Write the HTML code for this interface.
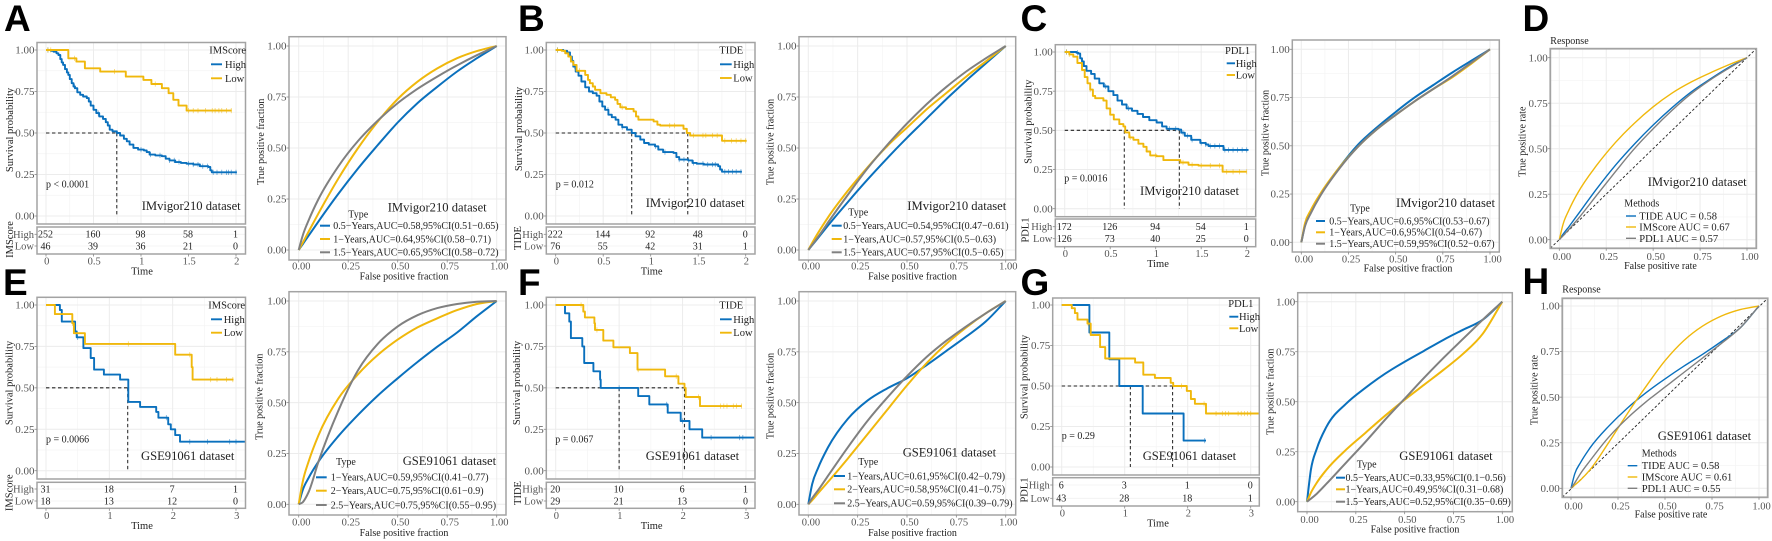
<!DOCTYPE html>
<html lang="en">
<head>
<meta charset="utf-8">
<title>Survival and ROC curves for IMScore, TIDE and PDL1</title>
<style>
html,body{margin:0;padding:0;background:#fff;width:1772px;height:541px;overflow:hidden}
svg{display:block;filter:blur(.35px);font-family:"Liberation Serif",serif}
</style>
</head>
<body>
<svg id="figure" width="1772" height="541" viewBox="0 0 1772 541"></svg>
<script>
/* ---------- shared axis values ---------- */
const kmYTicks=[0,.25,.5,.75,1];
const kmYLabels=['0.00','0.25','0.50','0.75','1.00'];
const rocTicks=[0,.25,.5,.75,1];
const rocLabels=['0.00','0.25','0.50','0.75','1.00'];
const time2Ticks=[0,.5,1,1.5,2];
const time2Labels=['0','0.5','1','1.5','2'];
const time3Ticks=[0,1,2,3];
const time3Labels=['0','1','2','3'];
const rocFpr=[0,.02,.05,.1,.2,.3,.4,.5,.6,.7,.8,.9,1];

/* ---------- panel A ---------- */
const kmATimeHigh=[0,.05,.08,.11,.13,.15,.165,.18,.2,.22,.235,.25,.27,.29,.305,.33,.36,.39,.43,.45,.47,.5,.53,.56,.6,.63,.65,.67,.7,.745,.78,.82,.85,.88,.92,.97,1.03,1.06,1.09,1.15,1.22,1.26,1.3,1.36,1.42,1.48,1.55,1.62,1.71,1.73,1.745,2.01];
const kmASurvHigh=[1,.995,.99,.98,.97,.945,.925,.91,.885,.865,.85,.825,.80,.78,.77,.745,.73,.72,.71,.69,.665,.64,.62,.60,.585,.565,.545,.52,.51,.5,.485,.465,.45,.43,.41,.40,.395,.385,.37,.365,.36,.345,.335,.325,.32,.315,.31,.30,.295,.275,.263,.263];
const kmACensorHigh=[.02,.3,.55,.75,1.0,1.1,1.2,1.3,1.35,1.4,1.5,1.55,1.6,1.65,1.7,1.76,1.8,1.85,1.9,1.92,1.95,2.0];
const kmATimeLow=[0,.22,.235,.32,.41,.57,.84,1.025,1.11,1.22,1.29,1.34,1.395,1.48,1.955];
const kmASurvLow=[1,1,.95,.93,.89,.87,.84,.82,.795,.77,.74,.70,.665,.635,.635];
const kmACensorLow=[.02,.05,.3,.72,1.15,1.5,1.55,1.6,1.68,1.75,1.78,1.82,1.85,1.9,1.95];
const kmAMedian=[.745];
const kmARiskHigh=[252,160,98,58,1];
const kmARiskLow=[46,39,36,21,0];
const rocATprBlue=[0,.028,.07,.14,.275,.40,.515,.625,.72,.80,.875,.94,1];
const rocATprYellow=[0,.035,.09,.18,.35,.50,.63,.74,.825,.89,.94,.975,1];
const rocATprGray=[0,.07,.145,.25,.41,.535,.635,.72,.79,.85,.905,.955,1];
const rocALegend=['0.5\u2212Years,AUC=0.58,95%CI(0.51\u22120.65)','1\u2212Years,AUC=0.64,95%CI(0.58\u22120.71)','1.5\u2212Years,AUC=0.65,95%CI(0.58\u22120.72)'];

/* ---------- panel B ---------- */
const kmBTimeHigh=[0,.08,.12,.15,.17,.185,.21,.24,.27,.31,.35,.39,.43,.46,.49,.52,.555,.59,.63,.66,.7,.75,.80,.84,.89,.93,.98,1.045,1.08,1.13,1.24,1.27,1.3,1.395,1.44,1.485,1.56,1.71,1.73,1.75,1.96];
const kmBSurvHigh=[1,.995,.985,.96,.935,.90,.87,.845,.81,.775,.75,.74,.725,.69,.66,.64,.61,.595,.58,.55,.535,.52,.50,.48,.46,.44,.43,.42,.40,.385,.38,.355,.34,.335,.32,.315,.31,.30,.28,.267,.267];
const kmBCensorHigh=[.02,.2,.55,.7,1.05,1.15,1.3,1.35,1.4,1.45,1.55,1.6,1.65,1.68,1.78,1.82,1.86,1.9,1.95];
const kmBTimeLow=[0,.063,.1,.133,.16,.185,.22,.31,.34,.36,.39,.415,.47,.535,.58,.625,.65,.68,.74,.82,.845,.87,1.03,1.07,1.10,1.31,1.345,1.38,1.415,1.73,1.75,2.01];
const kmBSurvLow=[1,.995,.98,.96,.93,.91,.875,.85,.82,.80,.78,.76,.74,.73,.715,.70,.675,.655,.645,.63,.60,.58,.57,.55,.545,.545,.525,.50,.485,.485,.453,.453];
const kmBCensorLow=[.02,.25,.7,1.2,1.25,1.45,1.55,1.58,1.65,1.7,1.78,1.85,1.9,1.95,2.0];
const kmBMedian=[.80,1.39];
const kmBRiskHigh=[222,144,92,48,0];
const kmBRiskLow=[76,55,42,31,1];
const rocBTprBlue=[0,.024,.06,.12,.235,.345,.45,.55,.645,.74,.83,.915,1];
const rocBTprYellow=[0,.035,.085,.16,.29,.405,.51,.60,.69,.77,.85,.925,1];
const rocBTprGray=[0,.025,.065,.135,.27,.40,.515,.62,.715,.80,.875,.94,1];
const rocBLegend=['0.5\u2212Years,AUC=0.54,95%CI(0.47\u22120.61)','1\u2212Years,AUC=0.57,95%CI(0.5\u22120.63)','1.5\u2212Years,AUC=0.57,95%CI(0.5\u22120.65)'];

/* ---------- panel C ---------- */
const kmCTimeHigh=[0,.13,.15,.17,.19,.21,.24,.29,.33,.38,.43,.48,.535,.58,.63,.68,.74,.8,.86,.93,1.01,1.07,1.12,1.25,1.28,1.32,1.39,1.49,1.55,1.58,1.725,1.745,2.02];
const kmCSurvHigh=[1,.995,.99,.96,.94,.91,.88,.86,.83,.80,.78,.75,.725,.69,.665,.64,.625,.605,.585,.565,.55,.525,.51,.505,.485,.465,.44,.42,.41,.40,.40,.375,.375];
const kmCCensorHigh=[.02,.14,.45,.7,1.15,1.22,1.3,1.35,1.4,1.5,1.55,1.6,1.65,1.7,1.76,1.8,1.85,1.9,1.95,2.0];
const kmCTimeLow=[0,.05,.095,.14,.19,.22,.25,.28,.31,.335,.425,.46,.5,.54,.6,.645,.665,.71,.755,.81,.865,.9,.94,1.01,1.085,1.27,1.36,1.47,1.705,1.735,2.0];
const kmCSurvLow=[1,.985,.97,.93,.885,.84,.80,.76,.72,.705,.69,.64,.60,.57,.54,.525,.487,.455,.44,.415,.395,.365,.34,.335,.31,.295,.28,.275,.275,.236,.236];
const kmCCensorLow=[.02,.05,.28,.72,1.0,1.3,1.4,1.5,1.6,1.7,1.78,1.85,1.92,2.0];
const kmCMedian=[.655,1.26];
const kmCRiskHigh=[172,126,94,54,1];
const kmCRiskLow=[126,73,40,25,0];
const rocCTprBlue=[0,.09,.155,.245,.385,.505,.595,.675,.75,.815,.88,.94,1];
const rocCTprYellow=[0,.10,.165,.25,.385,.495,.585,.66,.73,.795,.855,.925,1];
const rocCTprGray=[0,.085,.15,.24,.38,.495,.585,.66,.73,.795,.86,.93,1];
const rocCLegend=['0.5\u2212Years,AUC=0.6,95%CI(0.53\u22120.67)','1\u2212Years,AUC=0.6,95%CI(0.54\u22120.67)','1.5\u2212Years,AUC=0.59,95%CI(0.52\u22120.67)'];

/* ---------- panel D ---------- */
const rocDTprBlue=[0,.03,.07,.14,.28,.41,.525,.63,.725,.81,.88,.945,1];
const rocDTprYellow=[0,.085,.16,.26,.41,.535,.64,.73,.805,.865,.915,.96,1];
const rocDTprGray=[0,.022,.055,.115,.245,.375,.50,.61,.71,.80,.875,.94,1];
const rocDLegend=['TIDE AUC = 0.58','IMScore AUC = 0.67','PDL1 AUC = 0.57'];

/* ---------- panel E ---------- */
const kmETimeHigh=[0,.22,.25,.46,.485,.59,.705,.76,.915,1.17,1.30,1.485,1.74,1.775,1.93,1.97,2.04,2.115,3.15];
const kmESurvHigh=[1,.97,.90,.84,.805,.74,.68,.61,.58,.55,.415,.385,.355,.32,.28,.25,.215,.175,.175];
const kmECensorHigh=[.5,1.9,2.27,2.55,2.9,3.0];
const kmETimeLow=[0,.14,.415,.44,.615,2.04,2.30,2.315,2.96];
const kmESurvLow=[1,.945,.89,.83,.765,.70,.625,.55,.55];
const kmECensorLow=[.42,1.3,2.27,2.6,2.7,2.85,2.95];
const kmEMedian=[1.29];
const kmERiskHigh=[31,18,7,1];
const kmERiskLow=[18,13,12,0];
const rocETprBlue=[0,.07,.13,.21,.335,.44,.535,.62,.70,.775,.845,.925,1];
const rocETprYellow=[0,.11,.21,.34,.52,.64,.735,.81,.87,.915,.955,.985,1];
const rocETprGray=[0,.01,.06,.21,.46,.66,.79,.875,.93,.965,.985,.996,1];
const rocELegend=['1\u2212Years,AUC=0.59,95%CI(0.41\u22120.77)','2\u2212Years,AUC=0.75,95%CI(0.61\u22120.9)','2.5\u2212Years,AUC=0.75,95%CI(0.55\u22120.95)'];

/* ---------- panel F ---------- */
const kmFTimeHigh=[0,.147,.215,.24,.42,.45,.595,.70,.71,1.30,1.475,1.765,1.97,2.11,2.31,3.14];
const kmFSurvHigh=[1,.95,.90,.80,.75,.65,.60,.55,.50,.45,.40,.35,.30,.25,.20,.20];
const kmFCensorHigh=[1.0,1.75,2.0,2.45,2.9,2.95];
const kmFTimeLow=[0,.435,.46,.61,.62,.75,.91,1.17,1.29,1.725,1.935,2.03,2.05,2.275,2.93];
const kmFSurvLow=[1,.96,.925,.89,.85,.785,.745,.71,.61,.57,.525,.50,.445,.39,.39];
const kmFCensorLow=[.4,.65,1.3,1.9,2.25,2.6,2.65,2.7,2.8,2.85,2.93];
const kmFMedian=[1.0,2.03];
const kmFRiskHigh=[20,10,6,1];
const kmFRiskLow=[29,21,13,0];
const rocFTprBlue=[0,.10,.18,.28,.42,.51,.57,.62,.685,.755,.825,.90,1];
const rocFTprYellow=[0,.02,.055,.11,.225,.345,.465,.585,.695,.79,.87,.94,1];
const rocFTprGray=[0,.03,.07,.14,.28,.41,.525,.63,.725,.805,.875,.94,1];
const rocFLegend=['1\u2212Years,AUC=0.61,95%CI(0.42\u22120.79)','2\u2212Years,AUC=0.58,95%CI(0.41\u22120.75)','2.5\u2212Years,AUC=0.59,95%CI(0.39\u22120.79)'];

/* ---------- panel G ---------- */
const kmGTimeHigh=[0,.44,.755,.915,1.285,1.935,2.29];
const kmGSurvHigh=[1,.83,.665,.50,.33,.163,.163];
const kmGCensorHigh=[2.27];
const kmGTimeLow=[0,.16,.21,.25,.41,.46,.61,.69,1.165,1.295,1.48,1.73,1.77,1.985,2.05,2.115,2.29,3.14];
const kmGSurvLow=[1,.98,.95,.91,.885,.815,.74,.67,.645,.57,.55,.52,.50,.47,.42,.39,.33,.33];
const kmGCensorLow=[.42,1.9,2.26,2.45,2.55,2.6,2.65,2.8,2.85,2.9,2.95,3.0];
const kmGMedian=[1.09,1.76];
const kmGRiskHigh=[6,3,1,0];
const kmGRiskLow=[43,28,18,1];
const rocGTprBlue=[0,.16,.265,.375,.49,.57,.64,.70,.755,.81,.86,.91,1];
const rocGTprYellow=[0,.045,.095,.16,.26,.345,.43,.51,.585,.66,.74,.84,1];
const rocGTprGray=[0,.015,.04,.09,.195,.30,.41,.515,.62,.72,.815,.91,1];
const rocGLegend=['0.5\u2212Years,AUC=0.33,95%CI(0.1\u22120.56)','1\u2212Years,AUC=0.49,95%CI(0.31\u22120.68)','1.5\u2212Years,AUC=0.52,95%CI(0.35\u22120.69)'];

/* ---------- panel H ---------- */
const rocHTprBlue=[0,.08,.14,.22,.34,.44,.525,.60,.67,.735,.805,.88,1];
const rocHTprYellow=[0,.018,.045,.10,.25,.41,.56,.70,.81,.89,.945,.98,1];
const rocHTprGray=[0,.03,.08,.15,.28,.385,.475,.555,.635,.715,.795,.88,1];
const rocHLegend=['TIDE AUC = 0.58','IMScore AUC = 0.61','PDL1 AUC = 0.55'];

/* ---------- drawing helpers ---------- */
const SVGNS=document.getElementById('figure').namespaceURI;
const root=document.getElementById('figure');
const BLUE='#0a70bd',YELLOW='#f0b80c',GRAY='#808080',FRAME='#a3a3a3',TICKTXT='#555';

function node(parent,tag,name,attrs,content){
  const e=document.createElementNS(SVGNS,tag);
  for(const k in attrs){e.setAttribute(k,attrs[k]);}
  
  
  if(content!==undefined){e.textContent=content;}
  parent.appendChild(e);
  return e;
}
function label(parent,name,x,y,str,size,fill,anchor,rot){
  const a={x:x,y:y,dy:'.33em','font-size':size,fill:fill||'#222','text-anchor':anchor||'start'};
  if(rot){a.transform='rotate(-90 '+x+' '+y+')';}
  return node(parent,'text',name,a,str);
}
function line(parent,name,x1,y1,x2,y2,stroke,w,dash){
  const a={x1:x1,y1:y1,x2:x2,y2:y2,stroke:stroke,'stroke-width':w};
  if(dash){a['stroke-dasharray']=dash;}
  return node(parent,'line',name,a);
}
function grid(g,b,xs,ys,xTicks,yTicks){
  const minor=(arr,f)=>{for(let i=0;i<arr.length-1;i++){f((arr[i]+arr[i+1])/2);}};
  minor(xTicks,v=>line(g,'minor-gridline-x',xs(v),b.t,xs(v),b.b,'#f4f4f4',.7));
  minor(yTicks,v=>line(g,'minor-gridline-y',b.l,ys(v),b.r,ys(v),'#f4f4f4',.7));
  xTicks.forEach(v=>line(g,'major-gridline-x',xs(v),b.t,xs(v),b.b,'#ececec',1));
  yTicks.forEach(v=>line(g,'major-gridline-y',b.l,ys(v),b.r,ys(v),'#ececec',1));
}
function frame(g,name,l,t,r,b,w){
  node(g,'rect',name,{x:l,y:t,width:r-l,height:b-t,fill:'none',stroke:FRAME,'stroke-width':w||1.5});
}
function stepPath(times,surv,xs,ys){
  let d='M'+xs(times[0]).toFixed(1)+' '+ys(surv[0]).toFixed(1);
  for(let i=1;i<times.length;i++){
    d+='H'+xs(times[i]).toFixed(1)+'V'+ys(surv[i]).toFixed(1);
  }
  return d;
}
function survAt(times,surv,t){
  let s=surv[0];
  for(let i=0;i<times.length;i++){if(times[i]<=t){s=surv[i];}}
  return s;
}
function kmCurve(g,key,color,times,surv,censor,xs,ys){
  node(g,'path','survival-curve-'+key,{d:stepPath(times,surv,xs,ys),fill:'none',stroke:color,'stroke-width':1.9,'stroke-linejoin':'round'});
  censor.forEach(t=>{
    const px=xs(t),py=ys(survAt(times,surv,t));
    line(g,'censor-mark-'+key,px,py-2.6,px,py+2.6,color,.8).setAttribute('opacity','.6');
  });
}
function smoothPath(xv,yv,xs,ys){
  const n=xv.length,m=[];
  m[0]=(yv[1]-yv[0])/(xv[1]-xv[0]);
  m[n-1]=(yv[n-1]-yv[n-2])/(xv[n-1]-xv[n-2]);
  for(let i=1;i<n-1;i++){
    const h0=xv[i]-xv[i-1],h1=xv[i+1]-xv[i];
    const d0=(yv[i]-yv[i-1])/h0,d1=(yv[i+1]-yv[i])/h1;
    m[i]=(h1*d0+h0*d1)/(h0+h1);
  }
  let d='M'+xs(xv[0]).toFixed(1)+' '+ys(yv[0]).toFixed(1);
  for(let i=0;i<n-1;i++){
    const h=(xv[i+1]-xv[i])/3;
    d+='C'+xs(xv[i]+h).toFixed(1)+' '+ys(yv[i]+m[i]*h).toFixed(1)+' '+xs(xv[i+1]-h).toFixed(1)+' '+ys(yv[i+1]-m[i+1]*h).toFixed(1)+' '+xs(xv[i+1]).toFixed(1)+' '+ys(yv[i+1]).toFixed(1);
  }
  return d;
}

/* ---------- Kaplan-Meier panel with risk table ---------- */
function drawKM(c){
  const g=node(root,'g','survival-plot-'+c.id,{});
  const b=c.box;
  const xs=t=>c.x0+(c.xEnd-c.x0)*t/c.tMax;
  const ys=s=>c.y0+(c.y1-c.y0)*s;
  node(g,'rect','plot-background',{x:b.l,y:b.t,width:b.r-b.l,height:b.b-b.t,fill:'#fff'});
  grid(g,b,xs,ys,c.xTicks,kmYTicks);
  c.median.forEach(t=>line(g,'median-drop-line',xs(t),ys(.5),xs(t),ys(0),'#333',1.1,'3.4 2.6'));
  line(g,'median-reference-line',xs(0),ys(.5),xs(Math.max.apply(null,c.median)),ys(.5),'#222',1.1,'3.4 2.6');
  kmCurve(g,'high',BLUE,c.highT,c.highS,c.highC,xs,ys);
  kmCurve(g,'low',YELLOW,c.lowT,c.lowS,c.lowC,xs,ys);
  frame(g,'plot-border',b.l,b.t,b.r,b.b);
  kmYTicks.forEach((v,i)=>{
    line(g,'y-axis-tick',b.l-2.5,ys(v),b.l,ys(v),'#888',.8);
    label(g,'y-tick-label',b.l-2.5,ys(v),kmYLabels[i],11,TICKTXT,'end');
  });
  label(g,'y-axis-title',c.yTitleX,c.yTitleY,'Survival probability',10.5,'#222','middle',true);
  label(g,'p-value',c.pX,c.pY,c.p,10,'#222');
  label(g,'dataset-label',c.annX,c.annY,c.ann,12.6,'#222');
  label(g,'legend-title',c.legTitleX,c.legTitleY,c.varName,10.5,'#222');
  line(g,'legend-key-high',c.keyL,c.legHighY,c.keyR,c.legHighY,BLUE,1.9);
  line(g,'legend-key-low',c.keyL,c.legLowY,c.keyR,c.legLowY,YELLOW,1.9);
  label(g,'legend-label-high',c.keyTextX,c.legHighY,'High',10.5,'#222');
  label(g,'legend-label-low',c.keyTextX,c.legLowY,'Low',10.5,'#222');
  /* risk table */
  const t=c.table;
  node(g,'rect','risk-table-background',{x:b.l,y:t.t,width:b.r-b.l,height:t.b-t.t,fill:'#fff'});
  line(g,'risk-table-gridline',b.l,t.rowH,b.r,t.rowH,'#f0f0f0',.8);
  line(g,'risk-table-gridline',b.l,t.rowL,b.r,t.rowL,'#f0f0f0',.8);
  frame(g,'risk-table-border',b.l,t.t,b.r,t.b);
  label(g,'risk-row-high',b.l-3,t.rowH,'High',10.5,TICKTXT,'end');
  label(g,'risk-row-low',b.l-3,t.rowL,'Low',10.5,TICKTXT,'end');
  line(g,'risk-tick-high',b.l-2.5,t.rowH,b.l,t.rowH,'#888',.8);
  line(g,'risk-tick-low',b.l-2.5,t.rowL,b.l,t.rowL,'#888',.8);
  label(g,'risk-table-title',t.titleX,t.titleY,c.varName,10.5,'#222','middle',true);
  c.xTicks.forEach((v,i)=>{
    label(g,'risk-count-high',xs(v)-.5,t.rowH,String(c.riskH[i]),10,'#222','middle');
    label(g,'risk-count-low',xs(v)-.5,t.rowL,String(c.riskL[i]),10,'#222','middle');
    line(g,'x-axis-tick',xs(v),t.b,xs(v),t.b+2.5,'#888',.8);
    label(g,'x-tick-label',xs(v)+.7,t.b+7,c.xLabels[i],10.5,TICKTXT,'middle');
  });
  label(g,'x-axis-title',c.timeX,t.b+17,'Time',10.5,'#222','middle');
}

/* ---------- ROC panel ---------- */
function drawROC(c){
  const g=node(root,'g','roc-plot-'+c.id,{});
  const b=c.box;
  const xs=v=>c.x0+(c.x1-c.x0)*v;
  const ys=v=>c.y0+(c.y1-c.y0)*v;
  node(g,'rect','plot-background',{x:b.l,y:b.t,width:b.r-b.l,height:b.b-b.t,fill:'#fff'});
  grid(g,b,xs,ys,rocTicks,rocTicks);
  if(c.diagonal){
    line(g,'reference-diagonal',b.l,b.b,b.r,b.t,'#222',.9,'2.6 2');
  }
  const w=c.lineW;
  node(g,'path','roc-curve-blue',{d:smoothPath(rocFpr,c.blue,xs,ys),fill:'none',stroke:BLUE,'stroke-width':w});
  node(g,'path','roc-curve-yellow',{d:smoothPath(rocFpr,c.yellow,xs,ys),fill:'none',stroke:YELLOW,'stroke-width':w});
  node(g,'path','roc-curve-gray',{d:smoothPath(rocFpr,c.gray,xs,ys),fill:'none',stroke:GRAY,'stroke-width':w});
  frame(g,'plot-border',b.l,b.t,b.r,b.b,c.frameW);
  rocTicks.forEach((v,i)=>{
    line(g,'y-axis-tick',b.l-2.5,ys(v),b.l,ys(v),'#888',.8);
    label(g,'y-tick-label',b.l-2.5,ys(v),rocLabels[i],11,TICKTXT,'end');
    line(g,'x-axis-tick',xs(v),b.b,xs(v),b.b+2.5,'#888',.8);
    label(g,'x-tick-label',xs(v)+2.6,b.b+c.tickOff,rocLabels[i],10.5,TICKTXT,'middle');
  });
  label(g,'x-axis-title',c.xTitleX,b.b+c.titleOff,c.xTitle,10,'#222','middle');
  label(g,'y-axis-title',c.yTitleX,c.yTitleY,c.yTitle,10,'#222','middle',true);
  label(g,'dataset-label',c.annX,c.annY,c.ann,12.6,'#222');
  label(g,'legend-title',c.legTitleX,c.legTitleY,c.legTitle,10,'#222');
  const cols=[BLUE,YELLOW,GRAY];
  c.legend.forEach((s,i)=>{
    line(g,'legend-key-'+(i+1),c.keyL,c.legY[i],c.keyR,c.legY[i],cols[i],c.keyW);
    label(g,'legend-entry-'+(i+1),c.keyTextX,c.legY[i],s,c.legSize,'#222');
  });
  if(c.response){
    label(g,'response-label',b.l,c.responseY,'Response',10,'#222');
  }
}

/* ---------- panel letters ---------- */
[['A',4,31],['B',518,31],['C',1020.5,31],['D',1522.5,31],['E',3,295],['F',518,295],['G',1020.5,295],['H',1522.5,294]].forEach(p=>{
  node(root,'text','panel-letter-'+p[0].toLowerCase(),{x:p[1],y:p[2],'font-size':37,'font-weight':700,'font-family':'"Liberation Sans",sans-serif',fill:'#000'},p[0]);
});

const DS1='IMvigor210 dataset',DS2='GSE91061 dataset';

/* ---------- survival panels ---------- */
drawKM({id:'a',box:{l:37,r:245.5,t:42.5,b:224},x0:46,xEnd:236,tMax:2,y1:50,y0:216,xTicks:time2Ticks,xLabels:time2Labels,
  highT:kmATimeHigh,highS:kmASurvHigh,highC:kmACensorHigh,lowT:kmATimeLow,lowS:kmASurvLow,lowC:kmACensorLow,median:kmAMedian,riskH:kmARiskHigh,riskL:kmARiskLow,
  varName:'IMScore',p:'p < 0.0001',pX:46,pY:184.3,ann:DS1,annX:141.7,annY:206,yTitleX:9.3,yTitleY:130,
  legTitleX:209.3,legTitleY:50,keyL:211,keyR:222,keyTextX:225,legHighY:64.3,legLowY:78.3,timeX:142,
  table:{t:227,b:254,rowH:234.3,rowL:246,titleX:9.3,titleY:239.5}});
drawKM({id:'b',box:{l:546.3,r:755,t:42.5,b:224},x0:555.7,xEnd:745.7,tMax:2,y1:50,y0:216,xTicks:time2Ticks,xLabels:time2Labels,
  highT:kmBTimeHigh,highS:kmBSurvHigh,highC:kmBCensorHigh,lowT:kmBTimeLow,lowS:kmBSurvLow,lowC:kmBCensorLow,median:kmBMedian,riskH:kmBRiskHigh,riskL:kmBRiskLow,
  varName:'TIDE',p:'p = 0.012',pX:555.7,pY:184.3,ann:DS1,annX:645.7,annY:202.7,yTitleX:518.3,yTitleY:129,
  legTitleX:719.3,legTitleY:50,keyL:720,keyR:731.7,keyTextX:733.3,legHighY:64.3,legLowY:78,timeX:651.7,
  table:{t:227,b:254,rowH:234.3,rowL:246,titleX:517.7,titleY:238}});
drawKM({id:'c',box:{l:1055.3,r:1255.7,t:44.7,b:216.7},x0:1064.7,xEnd:1246.7,tMax:2,y1:52,y0:208.7,xTicks:time2Ticks,xLabels:time2Labels,
  highT:kmCTimeHigh,highS:kmCSurvHigh,highC:kmCCensorHigh,lowT:kmCTimeLow,lowS:kmCSurvLow,lowC:kmCCensorLow,median:kmCMedian,riskH:kmCRiskHigh,riskL:kmCRiskLow,
  varName:'PDL1',p:'p = 0.0016',pX:1064.3,pY:178.3,ann:DS1,annX:1140,annY:190.7,yTitleX:1028,yTitleY:121.7,
  legTitleX:1225,legTitleY:50.7,keyL:1226.7,keyR:1235,keyTextX:1235.7,legHighY:63.3,legLowY:75,timeX:1158,
  table:{t:219,b:246.7,rowH:226.7,rowL:238.7,titleX:1025,titleY:230}});
drawKM({id:'e',box:{l:37,r:245.5,t:297.3,b:479},x0:46,xEnd:236,tMax:3,y1:305,y0:470.7,xTicks:time3Ticks,xLabels:time3Labels,
  highT:kmETimeHigh,highS:kmESurvHigh,highC:kmECensorHigh,lowT:kmETimeLow,lowS:kmESurvLow,lowC:kmECensorLow,median:kmEMedian,riskH:kmERiskHigh,riskL:kmERiskLow,
  varName:'IMScore',p:'p = 0.0066',pX:46,pY:439,ann:DS2,annX:141,annY:456,yTitleX:9,yTitleY:383,
  legTitleX:208.3,legTitleY:305,keyL:211,keyR:222,keyTextX:223.7,legHighY:319.3,legLowY:332.7,timeX:142,
  table:{t:482.3,b:508.3,rowH:489,rowL:501,titleX:9,titleY:492.7}});
drawKM({id:'f',box:{l:546.3,r:755,t:297.3,b:479},x0:555.7,xEnd:746,tMax:3,y1:305,y0:470.7,xTicks:time3Ticks,xLabels:time3Labels,
  highT:kmFTimeHigh,highS:kmFSurvHigh,highC:kmFCensorHigh,lowT:kmFTimeLow,lowS:kmFSurvLow,lowC:kmFCensorLow,median:kmFMedian,riskH:kmFRiskHigh,riskL:kmFRiskLow,
  varName:'TIDE',p:'p = 0.067',pX:555.3,pY:439,ann:DS2,annX:645.7,annY:456,yTitleX:516.7,yTitleY:383,
  legTitleX:719.3,legTitleY:305,keyL:720,keyR:731.7,keyTextX:733.3,legHighY:319.3,legLowY:332.7,timeX:651.7,
  table:{t:482.3,b:508.3,rowH:489,rowL:501,titleX:517.7,titleY:493}});
drawKM({id:'g',box:{l:1052.7,r:1259.3,t:298,b:475},x0:1061.7,xEnd:1250.7,tMax:3,y1:305,y0:467,xTicks:time3Ticks,xLabels:time3Labels,
  highT:kmGTimeHigh,highS:kmGSurvHigh,highC:kmGCensorHigh,lowT:kmGTimeLow,lowS:kmGSurvLow,lowC:kmGCensorLow,median:kmGMedian,riskH:kmGRiskHigh,riskL:kmGRiskLow,
  varName:'PDL1',p:'p = 0.29',pX:1061.7,pY:435.7,ann:DS2,annX:1142.7,annY:456,yTitleX:1024,yTitleY:377,
  legTitleX:1228.3,legTitleY:303.3,keyL:1229.3,keyR:1238.3,keyTextX:1239,legHighY:316.7,legLowY:328.3,timeX:1158,
  table:{t:477.7,b:506,rowH:485,rowL:498.3,titleX:1024,titleY:490}});

/* ---------- ROC panels ---------- */
const FRAC={xTitle:'False positive fraction',yTitle:'True positive fraction',legTitle:'Type',lineW:2,keyW:2,legSize:10,frameW:1.5};
const RATE={xTitle:'False positive rate',yTitle:'True positive rate',legTitle:'Methods',lineW:1.4,keyW:1.4,legSize:10.5,diagonal:true,response:true,frameW:1.8};

drawROC(Object.assign({},FRAC,{id:'a',box:{l:289,r:506,t:36.7,b:260},x0:298.7,x1:496.7,y1:46,y0:250,tickOff:6,titleOff:16,
  blue:rocATprBlue,yellow:rocATprYellow,gray:rocATprGray,legend:rocALegend,ann:DS1,annX:387.7,annY:207.3,
  xTitleX:404,yTitleX:260.7,yTitleY:141.7,legTitleX:348.3,legTitleY:214.3,keyL:320,keyR:330,keyTextX:333.3,legY:[225.7,239,252.3]}));
drawROC(Object.assign({},FRAC,{id:'b',box:{l:799,r:1015.7,t:36.7,b:260},x0:808.3,x1:1005.7,y1:46,y0:250,tickOff:6,titleOff:16,
  blue:rocBTprBlue,yellow:rocBTprYellow,gray:rocBTprGray,legend:rocBLegend,ann:DS1,annX:907.3,annY:205.7,
  xTitleX:912.5,yTitleX:770,yTitleY:142,legTitleX:848.3,legTitleY:212.3,keyL:831.7,keyR:841.7,keyTextX:843.3,legY:[225.7,239,252.3]}));
drawROC(Object.assign({},FRAC,{id:'c',box:{l:1292.3,r:1499.3,t:40,b:252},x0:1301.3,x1:1490,y1:49.3,y0:242.3,tickOff:7,titleOff:16,
  blue:rocCTprBlue,yellow:rocCTprYellow,gray:rocCTprGray,legend:rocCLegend,ann:DS1,annX:1396,annY:202.7,
  xTitleX:1408,yTitleX:1265,yTitleY:133,legTitleX:1350,legTitleY:208.3,keyL:1316,keyR:1325,keyTextX:1329.3,legY:[221,232.3,243.7]}));
drawROC(Object.assign({},RATE,{id:'d',box:{l:1550.3,r:1756.3,t:48.7,b:248.3},x0:1559.3,x1:1747,y1:57.7,y0:239.7,tickOff:8,titleOff:17.5,responseY:40.7,
  blue:rocDTprBlue,yellow:rocDTprYellow,gray:rocDTprGray,legend:rocDLegend,ann:DS1,annX:1647.7,annY:181.7,
  xTitleX:1660.5,yTitleX:1522.3,yTitleY:141.7,legTitleX:1624.3,legTitleY:203.3,keyL:1626,keyR:1636,keyTextX:1639.3,legY:[216,227,238.3]}));
drawROC(Object.assign({},FRAC,{id:'e',box:{l:289,r:506,t:291.7,b:515},x0:298.7,x1:496.7,y1:301,y0:504.3,tickOff:7,titleOff:17.7,
  blue:rocETprBlue,yellow:rocETprYellow,gray:rocETprGray,legend:rocELegend,ann:DS2,annX:402.7,annY:460.7,
  xTitleX:404,yTitleX:259,yTitleY:396.7,legTitleX:336,legTitleY:461.7,keyL:316,keyR:326.7,keyTextX:330.7,legY:[477.3,490.7,505]}));
drawROC(Object.assign({},FRAC,{id:'f',box:{l:799,r:1015.7,t:291.7,b:515},x0:808.3,x1:1005.7,y1:301,y0:504.3,tickOff:7,titleOff:17.7,
  blue:rocFTprBlue,yellow:rocFTprYellow,gray:rocFTprGray,legend:rocFLegend,ann:DS2,annX:902.7,annY:452.3,
  xTitleX:912.5,yTitleX:770,yTitleY:396,legTitleX:858.3,legTitleY:461.7,keyL:834,keyR:845,keyTextX:847.3,legY:[476,489.3,503.3]}));
drawROC(Object.assign({},FRAC,{id:'g',box:{l:1297.7,r:1512.3,t:292.7,b:511.7},x0:1307,x1:1502.3,y1:301.7,y0:501.7,tickOff:8,titleOff:17.5,
  blue:rocGTprBlue,yellow:rocGTprYellow,gray:rocGTprGray,legend:rocGLegend,ann:DS2,annX:1399.3,annY:456,
  xTitleX:1415,yTitleX:1270,yTitleY:391.7,legTitleX:1356.7,legTitleY:464.3,keyL:1336,keyR:1345,keyTextX:1345.5,legY:[477.7,489.3,501.7]}));
drawROC(Object.assign({},RATE,{id:'h',box:{l:1562.3,r:1767.7,t:298.3,b:497.3},x0:1571,x1:1759,y1:306,y0:488.3,tickOff:8.7,titleOff:16.7,responseY:289,
  blue:rocHTprBlue,yellow:rocHTprYellow,gray:rocHTprGray,legend:rocHLegend,ann:DS2,annX:1657.7,annY:436,
  xTitleX:1671,yTitleX:1534,yTitleY:390,legTitleX:1641.7,legTitleY:453.3,keyL:1627.7,keyR:1637.3,keyTextX:1641.7,legY:[465.7,477,488.3]}));
</script>
</body>
</html>
